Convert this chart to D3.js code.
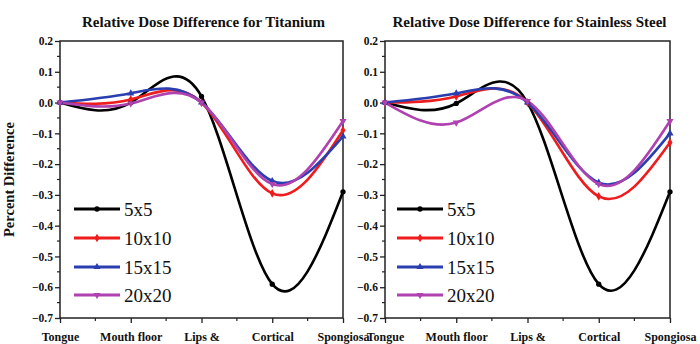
<!DOCTYPE html>
<html>
<head>
<meta charset="utf-8">
<script src="https://cdn.jsdelivr.net/npm/d3@7"></script>
<style>
  html, body { margin: 0; padding: 0; background: #fff; }
  svg { display: block; }
  text { font-family: "Liberation Serif", "Times New Roman", serif !important; fill: #111; }
</style>
</head>
<body>
<svg id="chart" width="700" height="344"></svg>
<script>
// ---- data ----
const categories = ["Tongue", "Mouth floor", "Lips &", "Cortical", "Spongiosa"];
const seriesNames = ["5x5", "10x10", "15x15", "20x20"];
const yTicks = [0.2, 0.1, 0.0, -0.1, -0.2, -0.3, -0.4, -0.5, -0.6, -0.7];

const titaniumTitle = "Relative Dose Difference for Titanium";
const titanium5 = [0, 0.0, 0.02, -0.59, -0.29];
const titanium10 = [0, 0.01, 0.0, -0.295, -0.09];
const titanium15 = [0, 0.03, 0.0, -0.255, -0.11];
const titanium20 = [0, -0.003, 0.0, -0.265, -0.06];

const steelTitle = "Relative Dose Difference for Stainless Steel";
const steel5 = [0, -0.003, 0.0, -0.59, -0.29];
const steel10 = [0, 0.02, 0.0, -0.305, -0.13];
const steel15 = [0, 0.03, 0.0, -0.26, -0.10];
const steel20 = [0, -0.065, 0.005, -0.265, -0.06];

const colors = ["#000000", "#ee1c1c", "#2a3eb0", "#b041b0"];
const symbols = [d3.symbolCircle, d3.symbolDiamond, d3.symbolTriangle, d3.symbolTriangle];
const symRot = [0, 0, 0, 180];

const svg = d3.select("#chart");

function drawPanel(opt) {
  const { left, right, top, bottom, title, series, legendX, showYLabel } = opt;
  const g = svg.append("g");
  const x = d3.scalePoint().domain(categories).range([left, right]);
  const y = d3.scaleLinear().domain([-0.7, 0.2]).range([bottom, top]);

  // title
  g.append("text")
    .attr("x", (left + right) / 2 + 2)
    .attr("y", 27)
    .attr("text-anchor", "middle")
    .attr("font-weight", "bold")
    .attr("font-size", 15)
    .text(title);

  // frame
  g.append("rect")
    .attr("x", left).attr("y", top)
    .attr("width", right - left).attr("height", bottom - top)
    .attr("fill", "none").attr("stroke", "#222").attr("stroke-width", 1.5);

  // y axis major
  const yAxis = d3.axisLeft(y).tickValues(yTicks).tickSize(5).tickPadding(2)
    .tickFormat(d3.format(".1f"));
  const ya = g.append("g").attr("transform", `translate(${left},0)`).call(yAxis);
  ya.select(".domain").remove();
  ya.selectAll(".tick line").attr("stroke", "#222").attr("stroke-width", 1.3);
  ya.selectAll(".tick text").attr("font-size", 11.5).attr("font-weight", "bold")
    .attr("fill", "#111");
  // y minor
  const yMinor = d3.range(-0.65, 0.2, 0.1);
  g.append("g").selectAll("line").data(yMinor).join("line")
    .attr("x1", left - 3).attr("x2", left)
    .attr("y1", d => y(d)).attr("y2", d => y(d))
    .attr("stroke", "#222").attr("stroke-width", 1.2);

  // x axis major
  const xAxis = d3.axisBottom(x).tickSize(5).tickPadding(9);
  const xa = g.append("g").attr("transform", `translate(0,${bottom})`).call(xAxis);
  xa.select(".domain").remove();
  xa.selectAll(".tick line").attr("stroke", "#222").attr("stroke-width", 1.3);
  xa.selectAll(".tick text").attr("font-size", 12).attr("font-weight", "bold")
    .attr("fill", "#111");
  // x minor
  const step = x.step();
  const xMinor = categories.slice(0, -1).map(c => x(c) + step / 2);
  g.append("g").selectAll("line").data(xMinor).join("line")
    .attr("x1", d => d).attr("x2", d => d)
    .attr("y1", bottom).attr("y2", bottom + 3)
    .attr("stroke", "#222").attr("stroke-width", 1.2);

  if (showYLabel) {
    g.append("text")
      .attr("transform", `translate(14,${(top + bottom) / 2}) rotate(-90)`)
      .attr("text-anchor", "middle")
      .attr("font-weight", "bold")
      .attr("font-size", 14.5)
      .text("Percent Difference");
  }

  // curves
  const line = d3.line()
    .x((d, i) => x(categories[i]))
    .y(d => y(d))
    .curve(d3.curveNatural);

  series.forEach((vals, si) => {
    g.append("path")
      .attr("d", line(vals))
      .attr("fill", "none")
      .attr("stroke", colors[si])
      .attr("stroke-width", 2.6)
      .attr("stroke-linejoin", "round");
  });
  series.forEach((vals, si) => {
    g.append("g").selectAll("path").data(vals).join("path")
      .attr("transform", (d, i) => `translate(${x(categories[i])},${y(d)}) rotate(${symRot[si]})`)
      .attr("d", d3.symbol().type(symbols[si]).size(22))
      .attr("fill", colors[si]);
  });

  // legend
  const legRows = [209, 238, 267, 295];
  seriesNames.forEach((name, si) => {
    const ly = legRows[si];
    g.append("line")
      .attr("x1", legendX).attr("x2", legendX + 46)
      .attr("y1", ly).attr("y2", ly)
      .attr("stroke", colors[si]).attr("stroke-width", 3);
    g.append("path")
      .attr("transform", `translate(${legendX + 23},${ly}) rotate(${symRot[si]})`)
      .attr("d", d3.symbol().type(symbols[si]).size(22))
      .attr("fill", colors[si]);
    g.append("text")
      .attr("x", legendX + 50)
      .attr("y", ly + 6.5)
      .attr("font-size", 19)
      .text(name);
  });
}

drawPanel({
  left: 60, right: 343, top: 41, bottom: 318,
  title: titaniumTitle,
  series: [titanium5, titanium10, titanium15, titanium20],
  legendX: 74, showYLabel: true
});
drawPanel({
  left: 385, right: 670, top: 41, bottom: 318,
  title: steelTitle,
  series: [steel5, steel10, steel15, steel20],
  legendX: 397, showYLabel: false
});
</script>
</body>
</html>
